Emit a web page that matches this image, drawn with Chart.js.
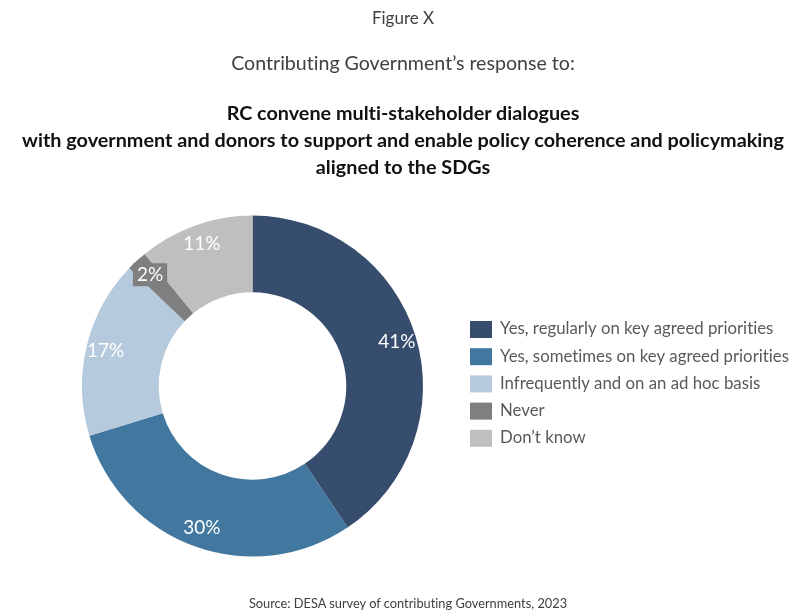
<!DOCTYPE html>
<html>
<head>
<meta charset="utf-8">
<script src="https://cdn.jsdelivr.net/npm/chart.js@4/dist/chart.umd.min.js"></script>
<style>
  html, body { margin: 0; padding: 0; background: #ffffff; }
  #wrap { position: relative; width: 806px; height: 612px; overflow: hidden; font-family: Lato, "Open Sans", sans-serif; font-variant-ligatures: none; }
  #chart { position: absolute; left: 0; top: 0; }
  .t { position: absolute; left: 0; width: 806px; text-align: center; white-space: nowrap; }
  .fig { top: 8px; font-size: 17px; line-height: 20px; color: #404040; }
  .sub { top: 51px; font-size: 19.6px; line-height: 24px; color: #404040; }
  .head { top: 99px; font-size: 19.8px; font-weight: bold; color: #111111; line-height: 27px; }
  .src { top: 595px; left: 5px; font-size: 12.8px; line-height: 16px; color: #404040; }
</style>
</head>
<body>
<div id="wrap">
  <canvas id="chart" width="806" height="612"></canvas>
  <div class="t fig">Figure X</div>
  <div class="t sub">Contributing Government’s response to:</div>
  <div class="t head">RC convene multi-stakeholder dialogues<br>with government and donors to support and enable policy coherence and policymaking<br>aligned to the SDGs</div>
  <div class="t src">Source: DESA survey of contributing Governments, 2023</div>
</div>
<script>
// Survey responses (percent of contributing Governments)
const categories = [
  "Yes, regularly on key agreed priorities",
  "Yes, sometimes on key agreed priorities",
  "Infrequently and on an ad hoc basis",
  "Never",
  "Don’t know"
];
const shares = [41, 30, 17, 2, 11];
const sliceColors = ["#374d6e", "#4277a0", "#b5cadc", "#7f7f7f", "#bfbfbf"];

// White percentage labels inside each slice; the thin slice gets a backing box
const sliceLabels = {
  id: "sliceLabels",
  afterDatasetsDraw(chart) {
    const ctx = chart.ctx;
    const meta = chart.getDatasetMeta(0);
    ctx.save();
    ctx.font = "19px Lato, 'Open Sans', sans-serif";
    ctx.textAlign = "center";
    ctx.textBaseline = "middle";
    meta.data.forEach((arc, i) => {
      const p = arc.getProps(["x", "y", "startAngle", "endAngle", "outerRadius"], true);
      const mid = (p.startAngle + p.endAngle) / 2;
      const r = p.outerRadius * 0.885;
      const x = p.x + Math.cos(mid) * r;
      const y = p.y + Math.sin(mid) * r;
      const text = shares[i] + "%";
      if (shares[i] < 5) {
        const w = ctx.measureText(text).width + 8;
        ctx.fillStyle = sliceColors[i];
        ctx.fillRect(x - w / 2, y - 12, w, 23);
      }
      ctx.fillStyle = "#ffffff";
      ctx.fillText(text, x, y);
    });
    ctx.restore();
  }
};

// Legend drawn to the right of the ring
const sideLegend = {
  id: "sideLegend",
  afterDraw(chart) {
    const ctx = chart.ctx;
    const labels = chart.data.labels;
    const colors = chart.data.datasets[0].backgroundColor;
    ctx.save();
    ctx.font = "16.8px Lato, 'Open Sans', sans-serif";
    ctx.textAlign = "left";
    ctx.textBaseline = "middle";
    labels.forEach((lab, i) => {
      const y = 329 + i * 27.2;
      ctx.fillStyle = colors[i];
      ctx.fillRect(470, y - 8, 22, 17);
      ctx.fillStyle = "#595959";
      ctx.fillText(lab, 500, y);
    });
    ctx.restore();
  }
};

new Chart(document.getElementById("chart"), {
  type: "doughnut",
  data: {
    labels: categories,
    datasets: [{
      data: shares,
      backgroundColor: sliceColors,
      borderWidth: 0
    }]
  },
  options: {
    responsive: false,
    animation: false,
    cutout: "55%",
    layout: { padding: { left: 82, top: 215, right: 383, bottom: 55 } },
    plugins: {
      legend: { display: false },
      tooltip: { enabled: false }
    }
  },
  plugins: [sliceLabels, sideLegend]
});
</script>
</body>
</html>
